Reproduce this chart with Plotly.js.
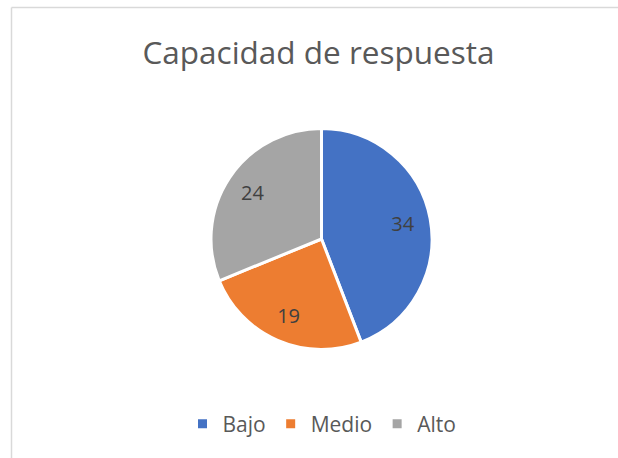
<!DOCTYPE html>
<html>
<head>
<meta charset="utf-8">
<script src="https://cdn.plot.ly/plotly-3.0.1.min.js"></script>
<style>
  html, body { margin: 0; padding: 0; background: #ffffff; }
  #chart { width: 618px; height: 458px; }
</style>
</head>
<body>
<div id="chart"></div>
<script>
const categories = ["Bajo", "Medio", "Alto"];
const values = [34, 19, 24];
const colors = ["#4472C4", "#ED7D31", "#A5A5A5"];
const chartTitle = "Capacidad de respuesta";

const W = 618, H = 458;
const cx = 321.5, cy = 239, r = 110.5;
const dom = {
  x: [(cx - r) / W, (cx + r) / W],
  y: [1 - (cy + r) / H, 1 - (cy - r) / H]
};

const pieTrace = {
  type: "pie",
  labels: categories,
  values: values,
  sort: false,
  direction: "clockwise",
  rotation: 0,
  marker: { colors: colors, line: { color: "#ffffff", width: 3 } },
  textinfo: "none",
  hoverinfo: "label+value",
  domain: dom
};

// transparent ring carrying the data labels, so they sit at ~3/4 of the radius
const labelTrace = {
  type: "pie",
  labels: categories,
  values: values,
  sort: false,
  direction: "clockwise",
  rotation: 0,
  hole: 0.5,
  showlegend: false,
  marker: { colors: ["rgba(0,0,0,0)", "rgba(0,0,0,0)", "rgba(0,0,0,0)"], line: { width: 0 } },
  textinfo: "value",
  textposition: "inside",
  insidetextorientation: "horizontal",
  textfont: { family: "Open Sans, sans-serif", size: 20, color: "#404040" },
  hoverinfo: "skip",
  domain: dom
};

const layout = {
  width: W,
  height: H,
  margin: { l: 0, r: 0, t: 0, b: 0 },
  paper_bgcolor: "#ffffff",
  title: {
    text: chartTitle,
    font: { family: "Open Sans, sans-serif", size: 31.5, color: "#595959" },
    x: 318.5 / W,
    xanchor: "center",
    y: 1 - 53 / H,
    yanchor: "middle",
    xref: "paper",
    yref: "paper"
  },
  showlegend: true,
  legend: {
    orientation: "h",
    x: 322 / W,
    xanchor: "center",
    y: 1 - 424 / H,
    yanchor: "middle",
    font: { family: "Open Sans, sans-serif", size: 21, color: "#595959" },
    itemwidth: 30,
    traceorder: "normal"
  },
  shapes: [
    { type: "line", xref: "paper", yref: "paper", x0: 11.5 / W, x1: 1, y0: 1 - 7.5 / H, y1: 1 - 7.5 / H,
      line: { color: "#d9d9d9", width: 1.5 } },
    { type: "line", xref: "paper", yref: "paper", x0: 11.5 / W, x1: 11.5 / W, y0: 0, y1: 1 - 7.5 / H,
      line: { color: "#d9d9d9", width: 1.5 } }
  ]
};

Plotly.newPlot("chart", [pieTrace, labelTrace], layout, { displayModeBar: false, staticPlot: true });
</script>
</body>
</html>
